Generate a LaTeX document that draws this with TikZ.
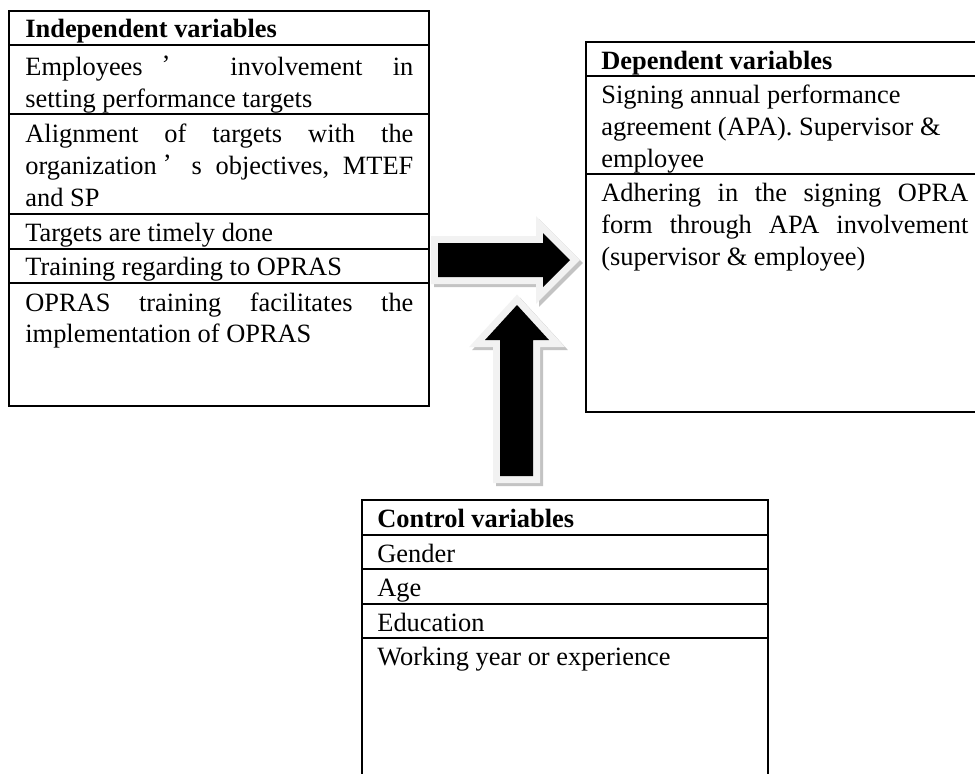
\documentclass[tikz,border=0pt]{standalone}
\usepackage{fontspec}
\setmainfont{Liberation Serif}
\definecolor{outl}{RGB}{242,242,242}
\definecolor{shad}{RGB}{195,195,195}
\tikzset{
  txt/.style={anchor=base west, inner sep=0pt, font=\fontsize{13.2pt}{16pt}\selectfont},
  hd/.style={txt, font=\fontsize{13.2pt}{16pt}\selectfont\bfseries},
  frame/.style={draw=black, line width=1pt},
  arrshadow/.style={draw=shad, fill=shad, line width=7pt, line join=miter},
  arroutline/.style={draw=outl, fill=outl, line width=7pt, line join=miter},
  arrbody/.style={fill=black}
}
\def\rarrow{(438,243) -- (543,243) -- (543,233) -- (570,260) -- (543,287) -- (543,277) -- (438,277) -- cycle}
\def\uarrow{(500,476) -- (500,340) -- (485,340) -- (517,305) -- (549,340) -- (533,340) -- (533,476) -- cycle}
\begin{document}
\begin{tikzpicture}[x=0.5pt, y={(0pt,-0.5pt)}]
\useasboundingbox (0,0) rectangle (975,773);
\clip (0,0) rectangle (975,773);
\fill[white] (0,0) rectangle (975,773);

% ---- Independent variables table
\draw[frame] (9,11) rectangle (429,406);
\foreach \yy in {45,114,214,249,283} \draw[frame] (9,\yy) -- (429,\yy);
\node[hd] (ind) at (25,37) {Independent variables};
\node[txt] (e1) at (25,75) {\hbox to 194pt{Employees\hspace{9.5pt}\raisebox{1pt}{’}\hspace{30pt}involvement\hfill in}};
\node[txt] (e2) at (25,107) {setting performance targets};
\node[txt] (a1) at (25,142) {\hbox to 194pt{Alignment\hfill of\hfill targets\hfill with\hfill the}};
\node[txt] (a2) at (25,174) {\hbox to 194pt{organization\hspace{3pt}\raisebox{1pt}{’}\hspace{10pt}s\hfill objectives,\hfill MTEF}};
\node[txt] (a3) at (25,206) {and SP};
\node[txt] (t1) at (25,241) {Targets are timely done};
\node[txt] (r1) at (25,275) {Training regarding to OPRAS};
\node[txt] (o1) at (25,311) {\hbox to 194pt{OPRAS\hfill training\hfill facilitates\hfill the}};
\node[txt] (o2) at (25,342) {implementation of OPRAS};

% ---- Dependent variables table
\draw[frame] (986,42) -- (586,42) -- (586,412) -- (986,412) -- cycle;
\foreach \yy in {76,174} \draw[frame] (586,\yy) -- (986,\yy);
\node[hd] (dep) at (601,69) {Dependent variables};
\node[txt] (s1) at (601,103) {Signing annual performance};
\node[txt] (s2) at (601,135) {agreement (APA). Supervisor \&};
\node[txt] (s3) at (601,167) {employee};
\node[txt] (h1) at (601,201) {\hbox to 183.5pt{Adhering\hfill in\hfill the\hfill signing\hfill OPRA}};
\node[txt] (h2) at (601,233) {\hbox to 183.5pt{form\hfill through\hfill APA\hfill involvement}};
\node[txt] (h3) at (601,265) {(supervisor \& employee)};

% ---- Control variables table
\draw[frame] (362,790) -- (362,500) -- (768,500) -- (768,790);
\foreach \yy in {535,569,604,638} \draw[frame] (362,\yy) -- (768,\yy);
\node[hd] (ctl) at (377,527) {Control variables};
\node[txt] (c1) at (377,562) {Gender};
\node[txt] (c2) at (377,596) {Age};
\node[txt] (c3) at (377,631) {Education};
\node[txt] (c4) at (377,665) {Working year or experience};

% ---- block arrows
\begin{scope}[shift={(3,3)}]
  \path[arrshadow] \rarrow;
\end{scope}
\path[arroutline] \rarrow;
\path[arrbody] \rarrow;
\begin{scope}[shift={(3,3)}]
  \path[arrshadow] \uarrow;
\end{scope}
\path[arroutline] \uarrow;
\path[arrbody] \uarrow;
\end{tikzpicture}
\end{document}
